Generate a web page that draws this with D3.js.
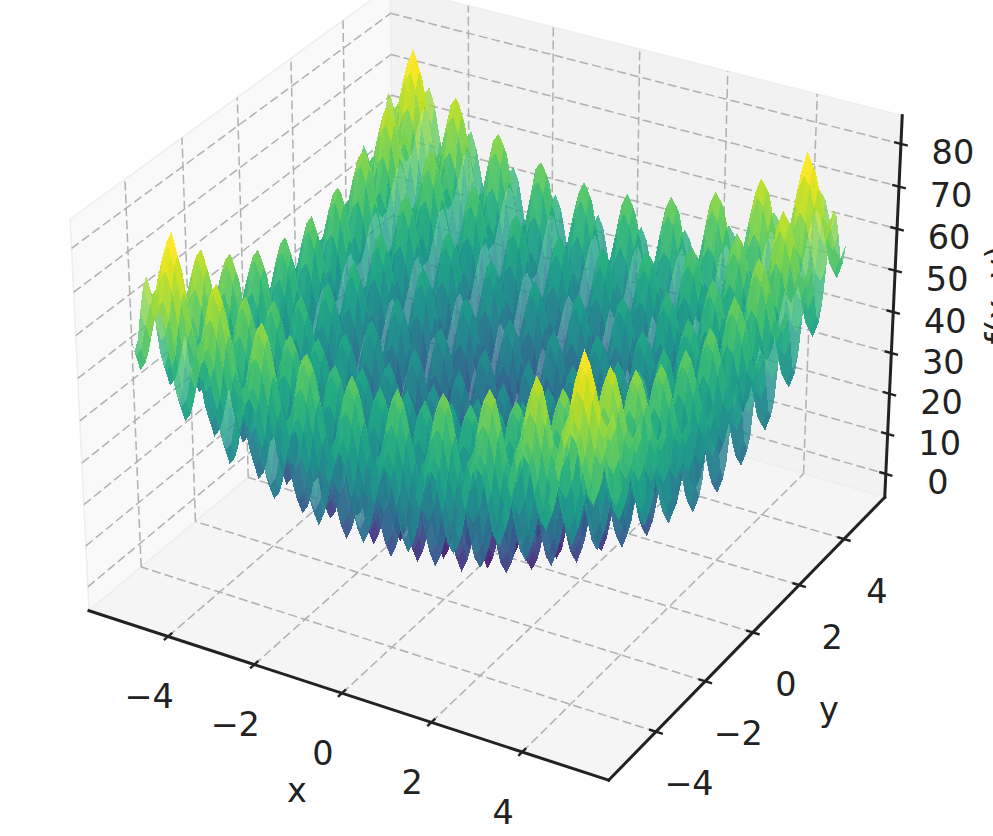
<!DOCTYPE html>
<html>
<head>
<meta charset="utf-8">
<script src="https://cdn.jsdelivr.net/npm/d3@7"></script>
<style>
html, body { margin: 0; padding: 0; background: #fff; }
svg { display: block; }
text { font-family: "DejaVu Sans"; fill: #222; font-size: 33.5px; }
</style>
</head>
<body>
<script>
// surface heights, one quarter only (x >= 0, y >= 0),
// the surface looks the same in all four quarters
var quarterPos = [0, 0.125, 0.25, 0.375, 0.5, 0.625, 0.75, 0.875, 1, 1.125, 1.25, 1.375, 1.5, 1.625, 1.75, 1.875, 2, 2.125, 2.25, 2.375, 2.5, 2.625, 2.75, 2.875, 3, 3.125, 3.25, 3.375, 3.5, 3.625, 3.75, 3.875, 4, 4.125, 4.25, 4.375, 4.5, 4.625, 4.75, 4.875, 5, 5.12];
var quarterZ = [
[0,3,10,17,20,17,11,4,1,4,12,19,22,20,13,6,4,7,15,23,26,24,18,11,9,13,21,28,32,30,24,18,16,20,28,36,40,38,33,27,25,29],
[3,6,13,20,23,20,14,7,4,7,15,22,25,23,16,9,7,10,18,26,29,27,21,14,12,16,24,31,35,33,27,21,19,23,31,39,43,41,36,30,28,32],
[10,13,20,27,30,27,21,14,11,14,22,29,32,30,23,16,14,17,25,33,36,34,28,21,19,23,31,38,42,40,34,28,26,30,38,46,50,48,43,37,35,39],
[17,20,27,34,37,34,28,21,18,21,29,36,39,37,30,23,21,24,32,40,43,41,35,28,26,30,38,45,49,47,41,35,33,37,45,53,57,55,50,44,42,46],
[20,23,30,37,40,37,31,24,21,24,32,39,42,40,33,26,24,27,35,43,46,44,38,31,29,33,41,48,52,50,44,38,36,40,48,56,60,58,53,47,45,49],
[17,20,27,34,37,34,28,21,18,21,29,36,39,37,30,23,21,24,32,40,43,41,35,28,26,30,38,45,49,47,41,35,33,37,45,53,57,55,50,44,42,46],
[11,14,21,28,31,28,22,15,12,15,23,30,33,31,24,17,15,18,26,34,37,35,29,22,20,24,32,39,43,41,35,29,27,31,39,47,51,49,44,38,36,40],
[4,7,14,21,24,21,15,8,5,8,16,23,26,24,17,10,8,11,19,27,30,28,22,15,13,17,25,32,36,34,28,22,20,24,32,40,44,42,37,31,29,33],
[1,4,11,18,21,18,12,5,2,5,13,20,23,21,14,7,5,8,16,24,27,25,19,12,10,14,22,29,33,31,25,19,17,21,29,37,41,39,34,28,26,30],
[4,7,14,21,24,21,15,8,5,8,16,23,26,24,17,10,8,11,19,27,30,28,22,15,13,17,25,32,36,34,28,22,20,24,32,40,44,42,37,31,29,33],
[12,15,22,29,32,29,23,16,13,16,24,31,34,32,25,18,16,19,27,35,38,36,30,23,21,25,33,40,44,42,36,30,28,32,40,48,52,50,45,39,37,41],
[19,22,29,36,39,36,30,23,20,23,31,38,41,39,32,25,23,26,34,42,45,43,37,30,28,32,40,47,51,49,43,37,35,39,47,55,59,57,52,46,44,48],
[22,25,32,39,42,39,33,26,23,26,34,41,44,42,35,28,26,29,37,45,48,46,40,33,31,35,43,50,54,52,46,40,38,42,50,58,62,60,55,49,47,51],
[20,23,30,37,40,37,31,24,21,24,32,39,42,40,33,26,24,27,35,43,46,44,38,31,29,33,41,48,52,50,44,38,36,40,48,56,60,58,53,47,45,49],
[13,16,23,30,33,30,24,17,14,17,25,32,35,33,26,19,17,20,28,36,39,37,31,24,22,26,34,41,45,43,37,31,29,33,41,49,53,51,46,40,38,42],
[6,9,16,23,26,23,17,10,7,10,18,25,28,26,19,12,10,13,21,29,32,30,24,17,15,19,27,34,38,36,30,24,22,26,34,42,46,44,39,33,31,35],
[4,7,14,21,24,21,15,8,5,8,16,23,26,24,17,10,8,11,19,27,30,28,22,15,13,17,25,32,36,34,28,22,20,24,32,40,44,42,37,31,29,33],
[7,10,17,24,27,24,18,11,8,11,19,26,29,27,20,13,11,14,22,30,33,31,25,18,16,20,28,35,39,37,31,25,23,27,35,43,47,45,40,34,32,36],
[15,18,25,32,35,32,26,19,16,19,27,34,37,35,28,21,19,22,30,38,41,39,33,26,24,28,36,43,47,45,39,33,31,35,43,51,55,53,48,42,40,44],
[23,26,33,40,43,40,34,27,24,27,35,42,45,43,36,29,27,30,38,46,49,47,41,34,32,36,44,51,55,53,47,41,39,43,51,59,63,61,56,50,48,52],
[26,29,36,43,46,43,37,30,27,30,38,45,48,46,39,32,30,33,41,49,52,50,44,37,35,39,47,54,58,56,50,44,42,46,54,62,66,64,59,53,51,55],
[24,27,34,41,44,41,35,28,25,28,36,43,46,44,37,30,28,31,39,47,50,48,42,35,33,37,45,52,56,54,48,42,40,44,52,60,64,62,57,51,49,53],
[18,21,28,35,38,35,29,22,19,22,30,37,40,38,31,24,22,25,33,41,44,42,36,29,27,31,39,46,50,48,42,36,34,38,46,54,58,56,51,45,43,47],
[11,14,21,28,31,28,22,15,12,15,23,30,33,31,24,17,15,18,26,34,37,35,29,22,20,24,32,39,43,41,35,29,27,31,39,47,51,49,44,38,36,40],
[9,12,19,26,29,26,20,13,10,13,21,28,31,29,22,15,13,16,24,32,35,33,27,20,18,22,30,37,41,39,33,27,25,29,37,45,49,47,42,36,34,38],
[13,16,23,30,33,30,24,17,14,17,25,32,35,33,26,19,17,20,28,36,39,37,31,24,22,26,34,41,45,43,37,31,29,33,41,49,53,51,46,40,38,42],
[21,24,31,38,41,38,32,25,22,25,33,40,43,41,34,27,25,28,36,44,47,45,39,32,30,34,42,49,53,51,45,39,37,41,49,57,61,59,54,48,46,50],
[28,31,38,45,48,45,39,32,29,32,40,47,50,48,41,34,32,35,43,51,54,52,46,39,37,41,49,56,60,58,52,46,44,48,56,64,68,66,61,55,53,57],
[32,35,42,49,52,49,43,36,33,36,44,51,54,52,45,38,36,39,47,55,58,56,50,43,41,45,53,60,64,62,56,50,48,52,60,68,72,70,65,59,57,61],
[30,33,40,47,50,47,41,34,31,34,42,49,52,50,43,36,34,37,45,53,56,54,48,41,39,43,51,58,62,60,54,48,46,50,58,66,70,68,63,57,55,59],
[24,27,34,41,44,41,35,28,25,28,36,43,46,44,37,30,28,31,39,47,50,48,42,35,33,37,45,52,56,54,48,42,40,44,52,60,64,62,57,51,49,53],
[18,21,28,35,38,35,29,22,19,22,30,37,40,38,31,24,22,25,33,41,44,42,36,29,27,31,39,46,50,48,42,36,34,38,46,54,58,56,51,45,43,47],
[16,19,26,33,36,33,27,20,17,20,28,35,38,36,29,22,20,23,31,39,42,40,34,27,25,29,37,44,48,46,40,34,32,36,44,52,56,54,49,43,41,45],
[20,23,30,37,40,37,31,24,21,24,32,39,42,40,33,26,24,27,35,43,46,44,38,31,29,33,41,48,52,50,44,38,36,40,48,56,60,58,53,47,45,49],
[28,31,38,45,48,45,39,32,29,32,40,47,50,48,41,34,32,35,43,51,54,52,46,39,37,41,49,56,60,58,52,46,44,48,56,64,68,66,61,55,53,57],
[36,39,46,53,56,53,47,40,37,40,48,55,58,56,49,42,40,43,51,59,62,60,54,47,45,49,57,64,68,66,60,54,52,56,64,72,76,74,69,63,61,65],
[40,43,50,57,60,57,51,44,41,44,52,59,62,60,53,46,44,47,55,63,66,64,58,51,49,53,61,68,72,70,64,58,56,60,68,76,81,78,73,67,65,69],
[38,41,48,55,58,55,49,42,39,42,50,57,60,58,51,44,42,45,53,61,64,62,56,49,47,51,59,66,70,68,62,56,54,58,66,74,78,76,71,65,63,67],
[33,36,43,50,53,50,44,37,34,37,45,52,55,53,46,39,37,40,48,56,59,57,51,44,42,46,54,61,65,63,57,51,49,53,61,69,73,71,66,60,58,62],
[27,30,37,44,47,44,38,31,28,31,39,46,49,47,40,33,31,34,42,50,53,51,45,38,36,40,48,55,59,57,51,45,43,47,55,63,67,65,60,54,52,56],
[25,28,35,42,45,42,36,29,26,29,37,44,47,45,38,31,29,32,40,48,51,49,43,36,34,38,46,53,57,55,49,43,41,45,53,61,65,63,58,52,50,54],
[29,32,39,46,49,46,40,33,30,33,41,48,51,49,42,35,33,36,44,52,55,53,47,40,38,42,50,57,61,59,53,47,45,49,57,65,69,67,62,56,54,58]
];
var xTicks = [-4, -2, 0, 2, 4];
var yTicks = [-4, -2, 0, 2, 4];
var zTicks = [0, 10, 20, 30, 40, 50, 60, 70, 80];
var xLim = [-5.867, 5.867];
var yLim = [-5.867, 5.867];
var zLim = [-5.9, 86.6];
var zColor = [0, 77];

var width = 993, height = 836;

// box half sizes and the view at elev 30, azim -60, camera 10 away
var xScale = d3.scaleLinear().domain(xLim).range([-0.595, 0.595]);
var yScale = d3.scaleLinear().domain(yLim).range([-0.595, 0.595]);
var zScale = d3.scaleLinear().domain(zLim).range([-0.4465, 0.4465]);
var color = d3.scaleSequential(d3.interpolateViridis).domain(zColor);
var n = [0.433, -0.75, 0.5], u = [0.866, 0.5, 0], v = [-0.25, 0.433, 0.866];

function dot(a, b) { return a[0] * b[0] + a[1] * b[1] + a[2] * b[2]; }
function depth(x, y, z) {
    return 10 - dot([xScale(x), yScale(y), zScale(z)], n);
}
function project(x, y, z) {
    var p = [xScale(x), yScale(y), zScale(z)];
    var d = 10 - dot(p, n);
    return [494.2 + 5003 * dot(p, u) / d, 364 - 4996 * dot(p, v) / d];
}
function pathOf(points) {
    return "M" + points.map(function(p) { return project(p[0], p[1], p[2]).join(","); }).join("L") + "Z";
}
function lineOf(a, b) {
    var p = project(a[0], a[1], a[2]), q = project(b[0], b[1], b[2]);
    return "M" + p.join(",") + "L" + q.join(",");
}

// unfold the quarter into the whole grid
var pos = quarterPos.slice(1).reverse().map(function(d) { return -d; }).concat(quarterPos);
var last = quarterPos.length - 1;
function idx(i) { return Math.abs(i - last); }
function zAt(i, j) { return quarterZ[idx(j)][idx(i)]; }

var cells = [];
for(var i = 0; i < pos.length - 1; i++) {
    for(var j = 0; j < pos.length - 1; j++) {
        var corners = [
            [pos[i], pos[j], zAt(i, j)],
            [pos[i + 1], pos[j], zAt(i + 1, j)],
            [pos[i + 1], pos[j + 1], zAt(i + 1, j + 1)],
            [pos[i], pos[j + 1], zAt(i, j + 1)]
        ];
        cells.push({
            corners: corners,
            z: d3.mean(corners, function(c) { return c[2]; }),
            depth: d3.mean(corners, function(c) { return depth(c[0], c[1], c[2]); })
        });
    }
}
cells.sort(function(a, b) { return d3.descending(a.depth, b.depth); });

var svg = d3.select("body").append("svg").attr("width", width).attr("height", height);

// panes
var x0 = xLim[0], x1 = xLim[1], y0 = yLim[0], y1 = yLim[1], z0 = zLim[0], z1 = zLim[1];
var panes = [
    { fill: "#f9f9f9", pts: [[x0, y0, z0], [x0, y1, z0], [x0, y1, z1], [x0, y0, z1]] },
    { fill: "#f2f2f2", pts: [[x0, y1, z0], [x1, y1, z0], [x1, y1, z1], [x0, y1, z1]] },
    { fill: "#f5f5f5", pts: [[x0, y0, z0], [x1, y0, z0], [x1, y1, z0], [x0, y1, z0]] }
];
svg.selectAll("path.pane").data(panes).join("path")
    .attr("class", "pane")
    .attr("d", function(d) { return pathOf(d.pts); })
    .attr("fill", function(d) { return d.fill; })
    .attr("stroke", "#eeeeee")
    .attr("stroke-width", 1.5);

// grid lines run over the floor and up the two walls
var gridLines = [];
xTicks.forEach(function(t) {
    gridLines.push([[t, y0, z0], [t, y1, z0]]);
    gridLines.push([[t, y1, z0], [t, y1, z1]]);
});
yTicks.forEach(function(t) {
    gridLines.push([[x1, t, z0], [x0, t, z0]]);
    gridLines.push([[x0, t, z0], [x0, t, z1]]);
});
zTicks.forEach(function(t) {
    gridLines.push([[x0, y0, t], [x0, y1, t]]);
    gridLines.push([[x0, y1, t], [x1, y1, t]]);
});
svg.selectAll("path.grid").data(gridLines).join("path")
    .attr("class", "grid")
    .attr("d", function(d) { return lineOf(d[0], d[1]); })
    .attr("fill", "none")
    .attr("stroke", "#b0b0b0")
    .attr("stroke-width", 1.5)
    .attr("stroke-dasharray", "9,4");

// axis lines and ticks
var axisLines = [
    [[x0, y0, z0], [x1, y0, z0]],
    [[x1, y0, z0], [x1, y1, z0]],
    [[x1, y1, z0], [x1, y1, z1]]
];
svg.selectAll("path.axis").data(axisLines).join("path")
    .attr("class", "axis")
    .attr("d", function(d) { return lineOf(d[0], d[1]); })
    .attr("fill", "none")
    .attr("stroke", "#222")
    .attr("stroke-width", 3)
    .attr("stroke-linecap", "square");

var tickHalf = 0.15;
var tickMarks = [];
xTicks.forEach(function(t) { tickMarks.push([[t, y0 - tickHalf, z0], [t, y0 + tickHalf, z0]]); });
yTicks.forEach(function(t) { tickMarks.push([[x1 - tickHalf, t, z0], [x1 + tickHalf, t, z0]]); });
zTicks.forEach(function(t) { tickMarks.push([[x1 - tickHalf, y1, t], [x1 + tickHalf, y1, t]]); });
svg.selectAll("path.tick").data(tickMarks).join("path")
    .attr("class", "tick")
    .attr("d", function(d) { return lineOf(d[0], d[1]); })
    .attr("fill", "none")
    .attr("stroke", "#222")
    .attr("stroke-width", 2.4);

// the surface, far cells first
svg.append("g").selectAll("path").data(cells).join("path")
    .attr("d", function(d) { return pathOf(d.corners); })
    .attr("fill", function(d) { return color(d.z); })
    .attr("fill-opacity", 0.8)
    .attr("shape-rendering", "crispEdges");

function minus(t) { return String(t).replace("-", "\u2212"); }
function addLabels(ticks, pointOf, dx, dy) {
    svg.append("g").selectAll("text").data(ticks).join("text")
        .attr("x", function(t) { return pointOf(t)[0] + dx; })
        .attr("y", function(t) { return pointOf(t)[1] + dy; })
        .attr("text-anchor", "middle")
        .attr("dominant-baseline", "central")
        .text(minus);
}
addLabels(xTicks, function(t) { return project(t, y0, z0); }, -19, 60);
addLabels(yTicks, function(t) { return project(x1, t, z0); }, 33, 52);
addLabels(zTicks, function(t) { return project(x1, y1, t); }, 52, 9);

svg.append("text").attr("x", 297).attr("y", 790).attr("text-anchor", "middle")
    .attr("dominant-baseline", "central").text("x");
svg.append("text").attr("x", 829).attr("y", 709).attr("text-anchor", "middle")
    .attr("dominant-baseline", "central").text("y");
svg.append("text").attr("transform", "translate(1010,295) rotate(-90)")
    .attr("text-anchor", "middle").text("f(x, y)");
</script>
</body>
</html>
